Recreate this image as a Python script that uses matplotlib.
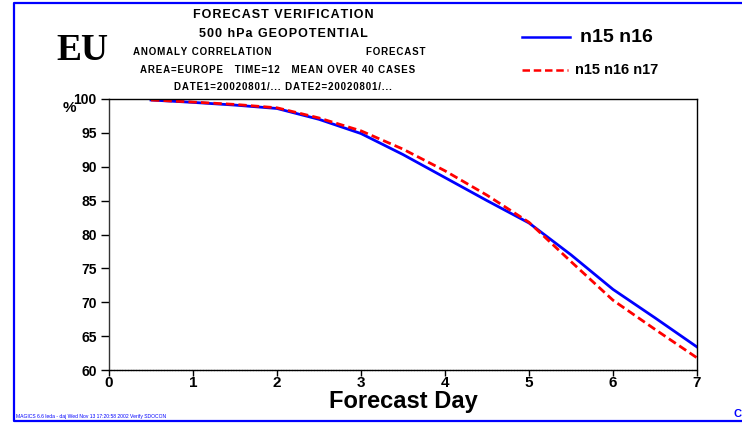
import matplotlib.pyplot as plt
from matplotlib.lines import Line2D

# forecast day and anomaly correlation (%)
days = [0.5, 1, 1.5, 2, 2.5, 3, 3.5, 4, 4.5, 5, 5.5, 6, 6.5, 7]
n15_n16 = [99.85, 99.5, 99.1, 98.6, 97.0, 94.9, 91.8, 88.4, 85.0, 81.7, 77.0, 71.9, 67.7, 63.4]
n15_n16_n17 = [99.85, 99.55, 99.2, 98.7, 97.2, 95.3, 92.6, 89.4, 85.8, 81.8, 76.0, 70.3, 66.0, 61.8]

x_ticks = [0, 1, 2, 3, 4, 5, 6, 7]
y_ticks = [60, 65, 70, 75, 80, 85, 90, 95, 100]

FONT = 'Liberation Sans'


def spaced(s, gap='\u200a'):
    # widen letter spacing a little, like the original plotting package
    return gap.join(s)


fig = plt.figure(figsize=(7.42, 4.29), dpi=100)

# blue page frame
frame = Line2D([1.0, 14 / 742, 14 / 742, 1.0],
               [1 - 3 / 429, 1 - 3 / 429, 1 - 421 / 429, 1 - 421 / 429],
               transform=fig.transFigure, color='#0000ff', lw=1.6)
fig.add_artist(frame)

ax = fig.add_axes([109 / 742, 1 - 370 / 429, 588 / 742, 271 / 429])
ax.plot(days, n15_n16, color='#0000ff', lw=2.0)
ax.plot(days, n15_n16_n17, color='#ff0000', lw=2.0, ls=(0, (3, 1.5)))

ax.set_xlim(0, 7)
ax.set_ylim(60, 100)
ax.set_xticks(x_ticks)
ax.set_yticks(y_ticks)
ax.set_xticklabels([str(v) for v in x_ticks], fontfamily=FONT, fontweight='bold', fontsize=11)
ax.set_yticklabels([str(v) for v in y_ticks], fontfamily=FONT, fontweight='bold', fontsize=10)
ax.tick_params(axis='x', direction='out', length=4, width=1, pad=0)
ax.tick_params(axis='y', direction='out', length=6, width=1, pad=3)
for s in ax.spines.values():
    s.set_linewidth(1.0)
ax.spines['left'].set_color('#333333')
ax.spines['bottom'].set_linestyle((0, (1.2, 0.8)))

ax.set_xlabel('Forecast Day', fontfamily=FONT, fontweight='bold', fontsize=17, labelpad=0)
fig.text(69 / 742, 1 - 108 / 429, '%', fontfamily=FONT, fontweight='bold', fontsize=11,
         ha='center', va='center')

# titles
small = dict(fontfamily=[FONT, 'DejaVu Sans'], fontweight='bold', fontsize=7, va='center')
fig.text(283 / 742, 1 - 15 / 429, spaced('FORECAST VERIFICATION'), fontfamily=[FONT, 'DejaVu Sans'],
         fontweight='bold', fontsize=9, ha='center', va='center')
fig.text(283 / 742, 1 - 34 / 429, spaced('500 hPa GEOPOTENTIAL'), fontfamily=[FONT, 'DejaVu Sans'],
         fontweight='bold', fontsize=9, ha='center', va='center')
fig.text(133 / 742, 1 - 52 / 429, spaced('ANOMALY CORRELATION'), ha='left', **small)
fig.text(425 / 742, 1 - 52 / 429, spaced('FORECAST'), ha='right', **small)
fig.text(278 / 742, 1 - 70 / 429, spaced('AREA=EUROPE   TIME=12   MEAN OVER 40 CASES'),
         ha='center', **small)
fig.text(283 / 742, 1 - 87 / 429, spaced('DATE1=20020801/... DATE2=20020801/...'),
         ha='center', **small)
fig.text(82 / 742, 1 - 50 / 429, 'EU', fontfamily='Liberation Serif',
         fontweight='bold', fontsize=27, ha='center', va='center')

# legend
fig.add_artist(Line2D([522 / 742, 570 / 742], [1 - 37 / 429] * 2,
                      transform=fig.transFigure, color='#0000ff', lw=1.8))
fig.text(580 / 742, 1 - 38 / 429, 'n15 n16', fontfamily=FONT, fontweight='bold',
         fontsize=14, ha='left', va='center')
fig.add_artist(Line2D([522 / 742, 568 / 742], [1 - 70 / 429] * 2,
                      transform=fig.transFigure, color='#ff0000', lw=1.8, ls=(0, (3, 1.5))))
fig.text(575 / 742, 1 - 70 / 429, 'n15 n16 n17', fontfamily=FONT, fontweight='bold',
         fontsize=10.5, ha='left', va='center')

# footer
fig.text(16 / 742, 1 - 419 / 429, 'MAGICS 6.6 leda - daj Wed Nov 13 17:20:58 2002 Verify SDOCON',
         fontfamily=FONT, fontsize=3.6, color='#0000ff', ha='left', va='bottom')
fig.text(734 / 742, 1 - 419 / 429, 'C', fontfamily=FONT, fontweight='bold', fontsize=8,
         color='#0000ff', ha='left', va='bottom')

fig.savefig('out.png', dpi=100)
